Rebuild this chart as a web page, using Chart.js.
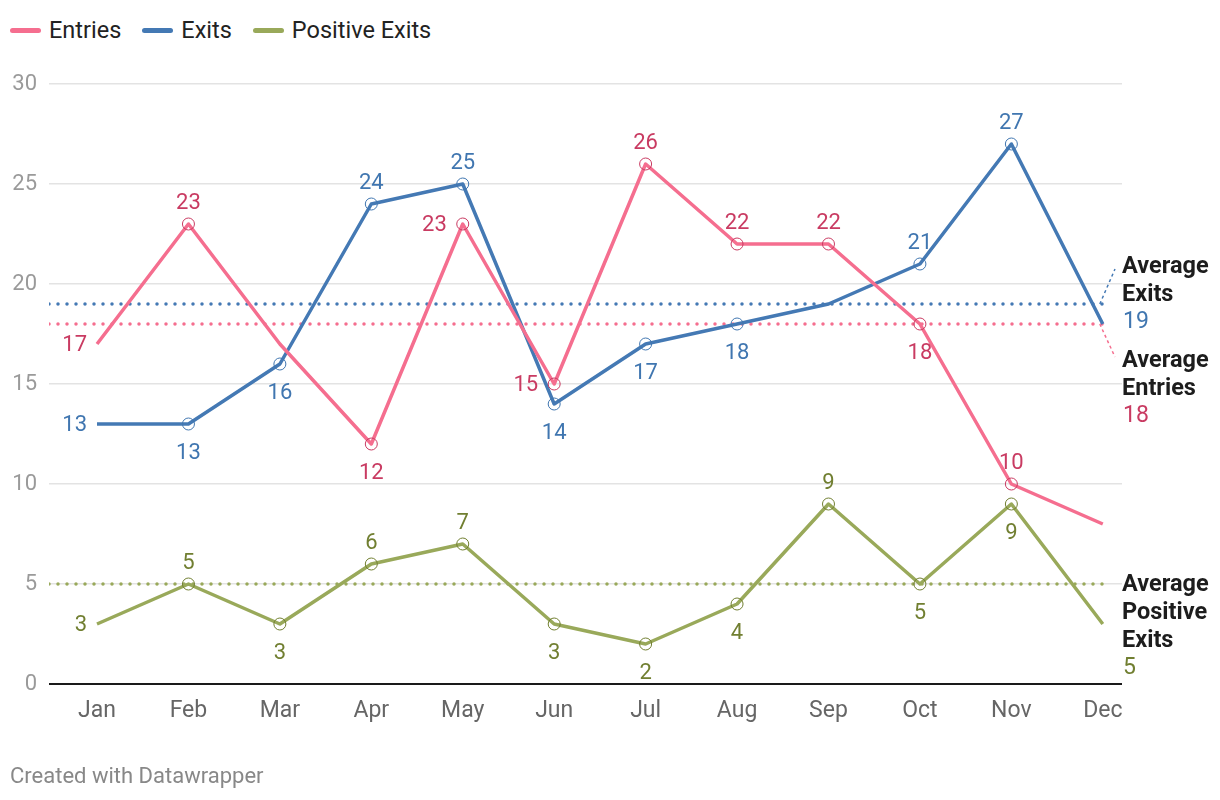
<!DOCTYPE html>
<html lang="en">
<head>
<meta charset="UTF-8"/>
<title>Entries and Exits</title>
<script src="https://cdn.jsdelivr.net/npm/chart.js"></script>
<style>
body { margin: 0; background: #fff; font-family: Roboto, sans-serif; }
.wrap { position: relative; width: 1220px; height: 800px; }
#myChart { position: absolute; left: 0; top: 0; }
.legend { position: absolute; left: 10px; top: 16px; display: flex; font-size: 23.5px; line-height: 28px; color: #222; }
.legend .item { display: flex; align-items: center; margin-right: 21px; }
.legend i { display: inline-block; width: 31px; height: 5px; border-radius: 3px; margin-right: 8px; }
.footer { position: absolute; left: 10px; top: 763px; font-size: 22px; color: #888; }
</style>
</head>
<body>
<div class="wrap">
    <div class="legend">
        <span class="item"><i style="background:#f56e8f"></i>Entries</span>
        <span class="item"><i style="background:#4479b4"></i>Exits</span>
        <span class="item"><i style="background:#99a95a"></i>Positive Exits</span>
    </div>
    <canvas id="myChart" width="1220" height="800"></canvas>
    <div class="footer">Created with Datawrapper</div>
</div>
<script>
var months = ['Jan', 'Feb', 'Mar', 'Apr', 'May', 'Jun', 'Jul', 'Aug', 'Sep', 'Oct', 'Nov', 'Dec'];
var entries = [17, 23, 17, 12, 23, 15, 26, 22, 22, 18, 10, 8];
var exits = [13, 13, 16, 24, 25, 14, 17, 18, 19, 21, 27, 18];
var positiveExits = [3, 5, 3, 6, 7, 3, 2, 4, 9, 5, 9, 3];
var avgEntries = 18;
var avgExits = 19;
var avgPositive = 5;
var yTicks = [0, 5, 10, 15, 20, 25, 30];

// where each value label goes: a = above, b = below, l = left, '' = none
var entriesPos = ['l', 'a', '', 'b', 'l', 'l', 'a', 'a', 'a', 'b', 'a', ''];
var exitsPos = ['l', 'b', 'b', 'a', 'a', 'b', 'b', 'b', '', 'a', 'a', ''];
var positivePos = ['l', 'a', 'b', 'a', 'a', 'b', 'b', 'b', 'a', 'b', 'b', ''];

var series = [
    { name: 'Entries', values: entries, pos: entriesPos, line: '#f56e8f', text: '#c93b62', avg: avgEntries, avgName: ['Average', 'Entries'] },
    { name: 'Exits', values: exits, pos: exitsPos, line: '#4479b4', text: '#4076b0', avg: avgExits, avgName: ['Average', 'Exits'] },
    { name: 'Positive Exits', values: positiveExits, pos: positivePos, line: '#99a95a', text: '#717f31', avg: avgPositive, avgName: ['Average', 'Positive', 'Exits'] }
];

var xMin = -0.525, xMax = 11.21;

function points(values) {
    return values.map(function (v, i) { return { x: i, y: v }; });
}

var datasets = [];
series.forEach(function (s) {
    datasets.push({
        label: s.name,
        data: points(s.values),
        borderColor: s.line,
        borderWidth: 3.5,
        borderJoinStyle: 'round',
        pointRadius: s.pos.map(function (p, i) { return (p && i > 0) ? 6 : 0; }),
        pointBackgroundColor: 'rgba(0,0,0,0)',
        pointBorderColor: s.text,
        pointBorderWidth: 1,
        tension: 0,
        order: 1
    });
});
series.forEach(function (s) {
    datasets.push({
        label: 'avg ' + s.name,
        data: [{ x: xMin, y: s.avg }, { x: 11, y: s.avg }],
        borderColor: s.line,
        borderWidth: 3.5,
        borderDash: [0, 9],
        borderCapStyle: 'round',
        pointRadius: 0,
        order: 2
    });
});

var labelsPlugin = {
    id: 'labelsPlugin',
    afterDatasetsDraw: function (chart) {
        var ctx = chart.ctx;
        var xs = chart.scales.x, ys = chart.scales.y;
        var right = chart.chartArea.right;
        ctx.save();
        ctx.textBaseline = 'middle';
        series.forEach(function (s) {
            ctx.font = '22px Roboto';
            ctx.fillStyle = s.text;
            s.values.forEach(function (v, i) {
                var p = s.pos[i];
                if (!p) return;
                var px = xs.getPixelForValue(i), py = ys.getPixelForValue(v);
                if (p === 'a') {
                    ctx.textAlign = 'center';
                    ctx.fillText(v, px, py - 21);
                } else if (p === 'b') {
                    ctx.textAlign = 'center';
                    ctx.fillText(v, px, py + 29);
                } else {
                    ctx.textAlign = 'right';
                    ctx.fillText(v, px - (i === 0 ? 10 : 16), py + 1);
                }
            });
        });

        // average labels on the right
        series.forEach(function (s, k) {
            var ay = ys.getPixelForValue(s.avg);
            var endX = xs.getPixelForValue(11);
            var top;
            if (k === 1) top = ay - 37;
            else if (k === 0) top = ay + 37;
            else top = ay + 1;
            if (k < 2) {
                ctx.strokeStyle = s.line;
                ctx.lineWidth = 1.5;
                ctx.setLineDash([3, 3]);
                ctx.beginPath();
                ctx.moveTo(endX - 3, ay);
                ctx.lineTo(right - 7, k === 1 ? ay - 35 : ay + 33);
                ctx.stroke();
                ctx.setLineDash([]);
            }
            ctx.textAlign = 'left';
            ctx.font = 'bold 23.5px Roboto';
            ctx.fillStyle = '#1d1d1d';
            s.avgName.forEach(function (t, j) {
                ctx.fillText(t, right, top + j * 28);
            });
            ctx.font = '23px Roboto';
            ctx.fillStyle = s.text;
            ctx.fillText(s.avg, right + 1, top + s.avgName.length * 28 - 1);
        });
        ctx.restore();
    }
};

var ctx = document.getElementById('myChart').getContext('2d');
var myChart = new Chart(ctx, {
    type: 'line',
    data: { datasets: datasets },
    plugins: [labelsPlugin],
    options: {
        responsive: false,
        animation: false,
        layout: { padding: { left: 0, right: 98, top: 84, bottom: 0 } },
        plugins: {
            legend: { display: false },
            tooltip: { enabled: false }
        },
        scales: {
            x: {
                type: 'linear',
                min: xMin,
                max: xMax,
                afterBuildTicks: function (scale) {
                    scale.ticks = months.map(function (m, i) { return { value: i }; });
                },
                afterFit: function (scale) { scale.height = 116; },
                grid: { display: false, drawTicks: false },
                border: { display: false },
                ticks: {
                    autoSkip: false,
                    maxRotation: 0,
                    padding: 13,
                    color: '#666',
                    font: { family: 'Roboto', size: 23 },
                    callback: function (value) { return months[value]; }
                }
            },
            y: {
                min: 0,
                max: 30,
                afterBuildTicks: function (scale) {
                    scale.ticks = yTicks.map(function (v) { return { value: v }; });
                },
                afterFit: function (scale) { scale.width = 49; },
                grid: {
                    drawTicks: false,
                    color: function (c) { return c.tick && c.tick.value === 0 ? '#1a1a1a' : '#e3e3e3'; },
                    lineWidth: function (c) { return c.tick && c.tick.value === 0 ? 2 : 1.5; }
                },
                border: { display: false },
                ticks: {
                    padding: 12,
                    color: '#9a9a9a',
                    font: { family: 'Roboto', size: 22 }
                }
            }
        }
    }
});
</script>
</body>
</html>
